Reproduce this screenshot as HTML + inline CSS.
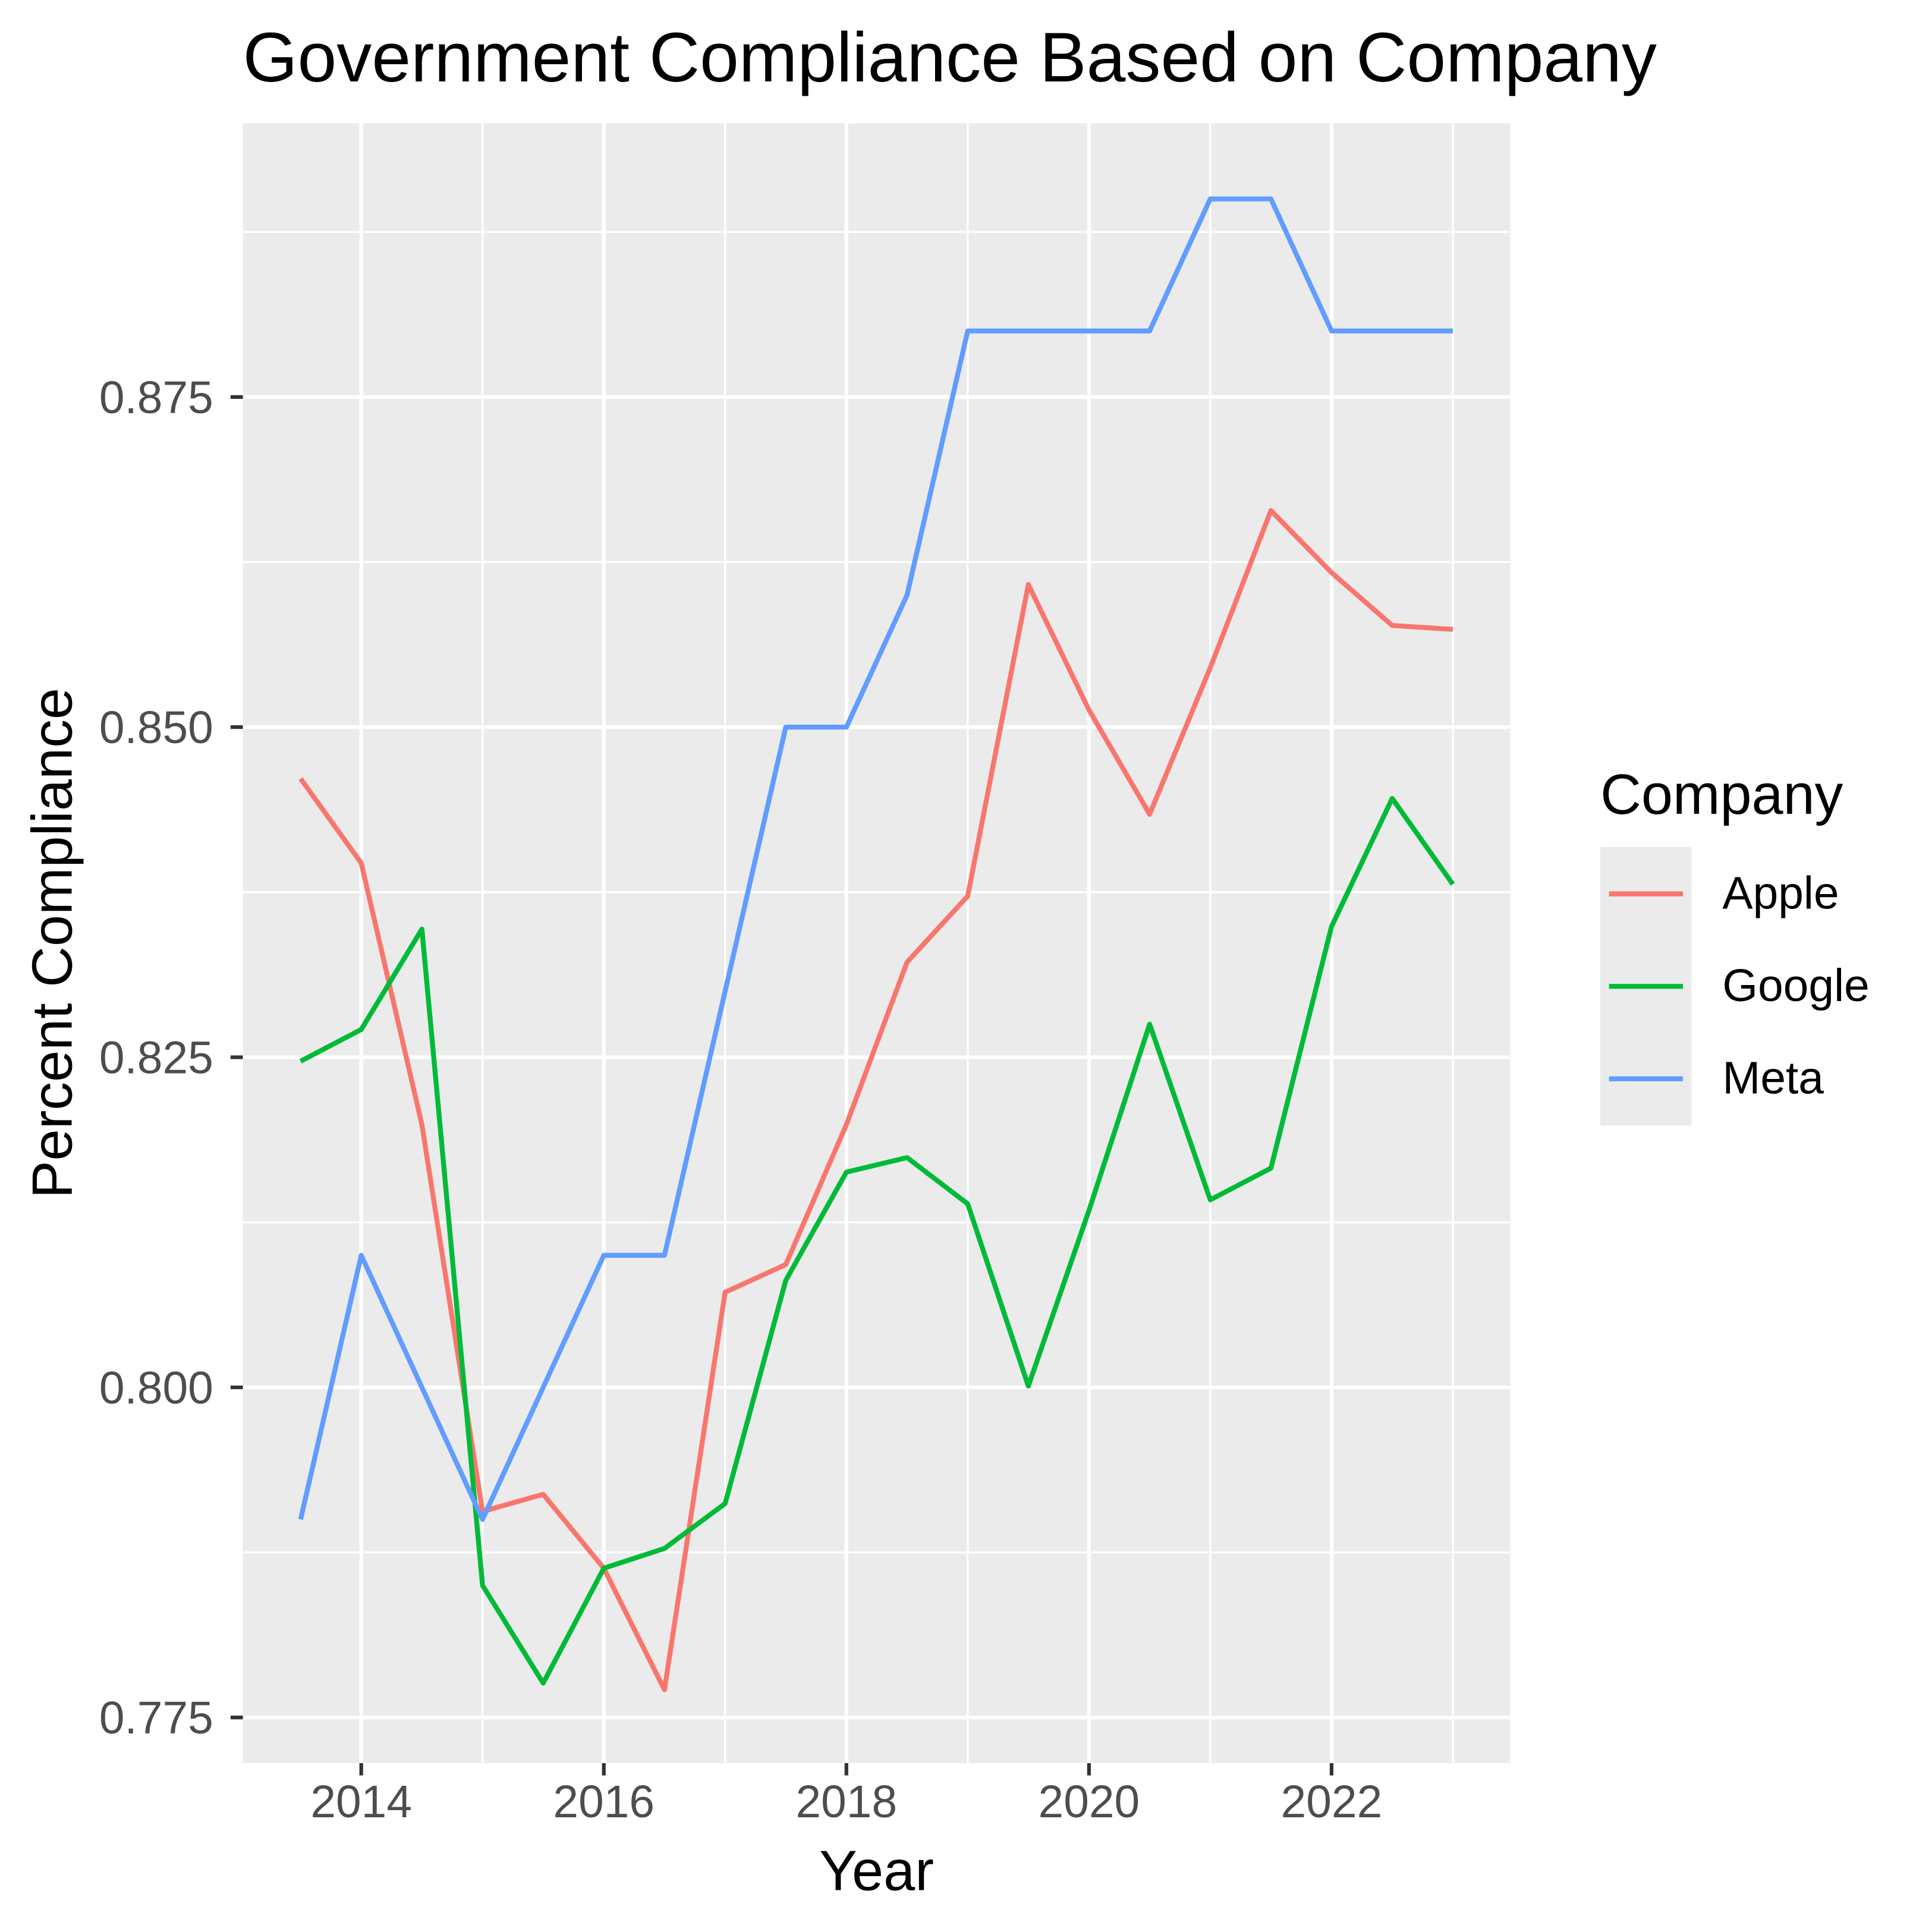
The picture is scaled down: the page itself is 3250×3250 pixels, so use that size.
<!DOCTYPE html>
<html><head><meta charset="utf-8"><style>
html,body{margin:0;padding:0;background:#fff}
svg{display:block;font-family:"Liberation Sans",Arial,sans-serif}
</style></head><body>
<svg id="chart" width="3250" height="3250" viewBox="0 0 1567 1567" xmlns="http://www.w3.org/2000/svg">
<text x="197" y="66" font-size="57" fill="#000">Government Compliance Based on Company</text>
<rect x="197" y="100" width="1028" height="1330" fill="#ebebeb"/>
<g id="grid"></g>
<g id="series"></g>
<g id="axes"></g>
<text x="711" y="1533" font-size="46" text-anchor="middle" fill="#000">Year</text>
<text transform="translate(58,765) rotate(-90)" font-size="46" text-anchor="middle" fill="#000">Percent Compliance</text>
<g>
<text x="1298" y="660" font-size="46" fill="#000">Company</text>
<rect x="1298" y="687" width="74" height="226" fill="#ebebeb"/>
<line x1="1305" x2="1365" y1="725" y2="725" stroke="#F8766D" stroke-width="4"/>
<line x1="1305" x2="1365" y1="800" y2="800" stroke="#00BA38" stroke-width="4"/>
<line x1="1305" x2="1365" y1="875" y2="875" stroke="#619CFF" stroke-width="4"/>
<text x="1397" y="737" font-size="37" fill="#000">Apple</text>
<text x="1397" y="812" font-size="37" fill="#000">Google</text>
<text x="1397" y="887" font-size="37" fill="#000">Meta</text>
</g>
</svg>
<script>
const years = [2013.5,2014,2014.5,2015,2015.5,2016,2016.5,2017,2017.5,2018,2018.5,2019,2019.5,2020,2020.5,2021,2021.5,2022,2022.5,2023];
const apple = [0.8461,0.8397,0.8199,0.7906,0.7919,0.7863,0.7771,0.8072,0.8093,0.8199,0.8322,0.8372,0.8608,0.8513,0.8434,0.8545,0.8664,0.8617,0.8577,0.8574];
const google = [0.8247,0.8271,0.8347,0.7850,0.7776,0.7863,0.7878,0.7912,0.8081,0.8163,0.8174,0.8139,0.8001,0.8134,0.8275,0.8142,0.8166,0.8349,0.8446,0.8381];
const meta = [0.79,0.81,0.80,0.79,0.80,0.81,0.81,0.83,0.85,0.85,0.86,0.88,0.88,0.88,0.88,0.89,0.89,0.88,0.88,0.88];
const xTicks = [2014,2016,2018,2020,2022];
const xMinor = [2015,2017,2019,2021,2023];
const yTicks = [0.775,0.800,0.825,0.850,0.875];
const yMinor = [0.7875,0.8125,0.8375,0.8625,0.8875];
const yTickLabels = ["0.775","0.800","0.825","0.850","0.875"];
const xTickLabels = ["2014","2016","2018","2020","2022"];

const NS="http://www.w3.org/2000/svg";
function xs(v){return 293+(v-2014)*(1080-293)/8;}
function ys(v){return 1393-(v-0.775)*(1393-322)/0.1;}
function mk(tag,attrs,parent){const e=document.createElementNS(NS,tag);for(const k in attrs)e.setAttribute(k,attrs[k]);parent.appendChild(e);return e;}
const grid=document.getElementById('grid'),series=document.getElementById('series'),axes=document.getElementById('axes');
yMinor.forEach(v=>{const l=mk('line',{x1:197,x2:1225,y1:ys(v),y2:ys(v),stroke:'#fff','stroke-width':1.6},grid);

});
xMinor.forEach(v=>{const l=mk('line',{x1:xs(v),x2:xs(v),y1:100,y2:1430,stroke:'#fff','stroke-width':1.6},grid);

});
yTicks.forEach((v,i)=>{const l=mk('line',{x1:197,x2:1225,y1:ys(v),y2:ys(v),stroke:'#fff','stroke-width':3},grid);


const t=mk('line',{x1:187,x2:197,y1:ys(v),y2:ys(v),stroke:'#333','stroke-width':3},axes);


const tx=mk('text',{x:173,y:ys(v)+13,'font-size':37,'text-anchor':'end',fill:'#4d4d4d'},axes);tx.textContent=yTickLabels[i];

});
xTicks.forEach((v,i)=>{const l=mk('line',{x1:xs(v),x2:xs(v),y1:100,y2:1430,stroke:'#fff','stroke-width':3},grid);


const t=mk('line',{x1:xs(v),x2:xs(v),y1:1430,y2:1440,stroke:'#333','stroke-width':3},axes);


const tx=mk('text',{x:xs(v),y:1474,'font-size':37,'text-anchor':'middle',fill:'#4d4d4d'},axes);tx.textContent=xTickLabels[i];

});
[[apple,'#F8766D','apple-line'],[google,'#00BA38','google-line'],[meta,'#619CFF','meta-line']].forEach(([d,c,n])=>{
const p=mk('polyline',{points:d.map((v,i)=>xs(years[i])+','+ys(v)).join(' '),fill:'none',stroke:c,'stroke-width':4,'stroke-linejoin':'round'},series);

});
</script>
</body></html>
